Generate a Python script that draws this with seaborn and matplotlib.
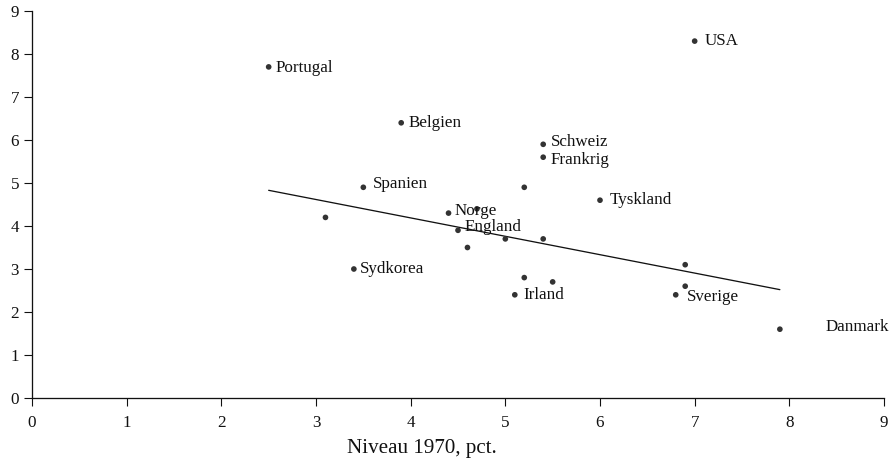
import matplotlib
matplotlib.use("Agg")
import matplotlib.pyplot as plt
import seaborn as sns
import pandas as pd

# Data
countries = ["USA", "Portugal", "Belgien", "Schweiz", "Frankrig", "Spanien", "",
             "Tyskland", "Norge", "", "", "England", "", "", "", "Sydkorea",
             "", "", "Irland", "", "", "Sverige", "Danmark"]
level_1970 = [7.0, 2.5, 3.9, 5.4, 5.4, 3.5, 5.2, 6.0, 4.4, 4.7, 3.1, 4.5, 5.0,
              5.4, 4.6, 3.4, 5.2, 5.5, 5.1, 6.9, 6.9, 6.8, 7.9]
growth = [8.3, 7.7, 6.4, 5.9, 5.6, 4.9, 4.9, 4.6, 4.3, 4.4, 4.2, 3.9, 3.7,
          3.7, 3.5, 3.0, 2.8, 2.7, 2.4, 3.1, 2.6, 2.4, 1.6]
trend_x = [2.5, 7.9]
trend_y = [4.83, 2.52]
x_ticks = list(range(0, 10))
y_ticks = list(range(0, 10))
x_label = "Niveau 1970, pct."

# label offsets in pixels (dx right, dy up)
label_offsets = {
    "USA": (10, 0), "Portugal": (7, -1), "Belgien": (7, 0), "Schweiz": (8, 2),
    "Frankrig": (7, -3), "Spanien": (10, 3), "Tyskland": (10, 0),
    "Norge": (6, 2), "England": (7, 3), "Sydkorea": (6, 0), "Irland": (9, 0),
    "Sverige": (11, -2), "Danmark": (46, 2),
}

df = pd.DataFrame({"x": level_1970, "y": growth, "name": countries})
trend = pd.DataFrame({"x": trend_x, "y": trend_y})

sns.set_style("ticks")
plt.rcParams["font.family"] = ["Liberation Serif", "DejaVu Serif"]

fig = plt.figure(figsize=(894 / 72, 465 / 72), dpi=72)
ax = fig.add_axes([32 / 894, 1 - 398 / 465, (884 - 32) / 894, (398 - 11) / 465])

sns.lineplot(data=trend, x="x", y="y", ax=ax, color="#111111", linewidth=1.3)
sns.scatterplot(data=df, x="x", y="y", ax=ax, color="#333333", s=32,
                edgecolor="none", zorder=3)

for _, r in df.iterrows():
    if r["name"]:
        dx, dy = label_offsets.get(r["name"], (7, 0))
        ax.annotate(r["name"], (r["x"], r["y"]), xytext=(dx, dy),
                    textcoords="offset points", ha="left", va="center",
                    fontsize=17, color="#111111")

ax.set_xlim(0, 9)
ax.set_ylim(0, 9)
ax.set_xticks(x_ticks)
ax.set_yticks(y_ticks)
ax.tick_params(axis="both", direction="out", length=8, width=1.1,
               labelsize=17, color="#111111", labelcolor="#111111")
ax.tick_params(axis="x", pad=9)
ax.tick_params(axis="y", pad=5)
for side in ["top", "right"]:
    ax.spines[side].set_visible(False)
for side in ["left", "bottom"]:
    ax.spines[side].set_linewidth(1.3)
    ax.spines[side].set_color("#111111")
ax.set_ylabel("")
ax.set_xlabel(x_label, fontsize=21, color="#111111")
ax.xaxis.set_label_coords((422 - 32) / (884 - 32), -0.105)

fig.savefig("out.png", dpi=72, facecolor="white")
